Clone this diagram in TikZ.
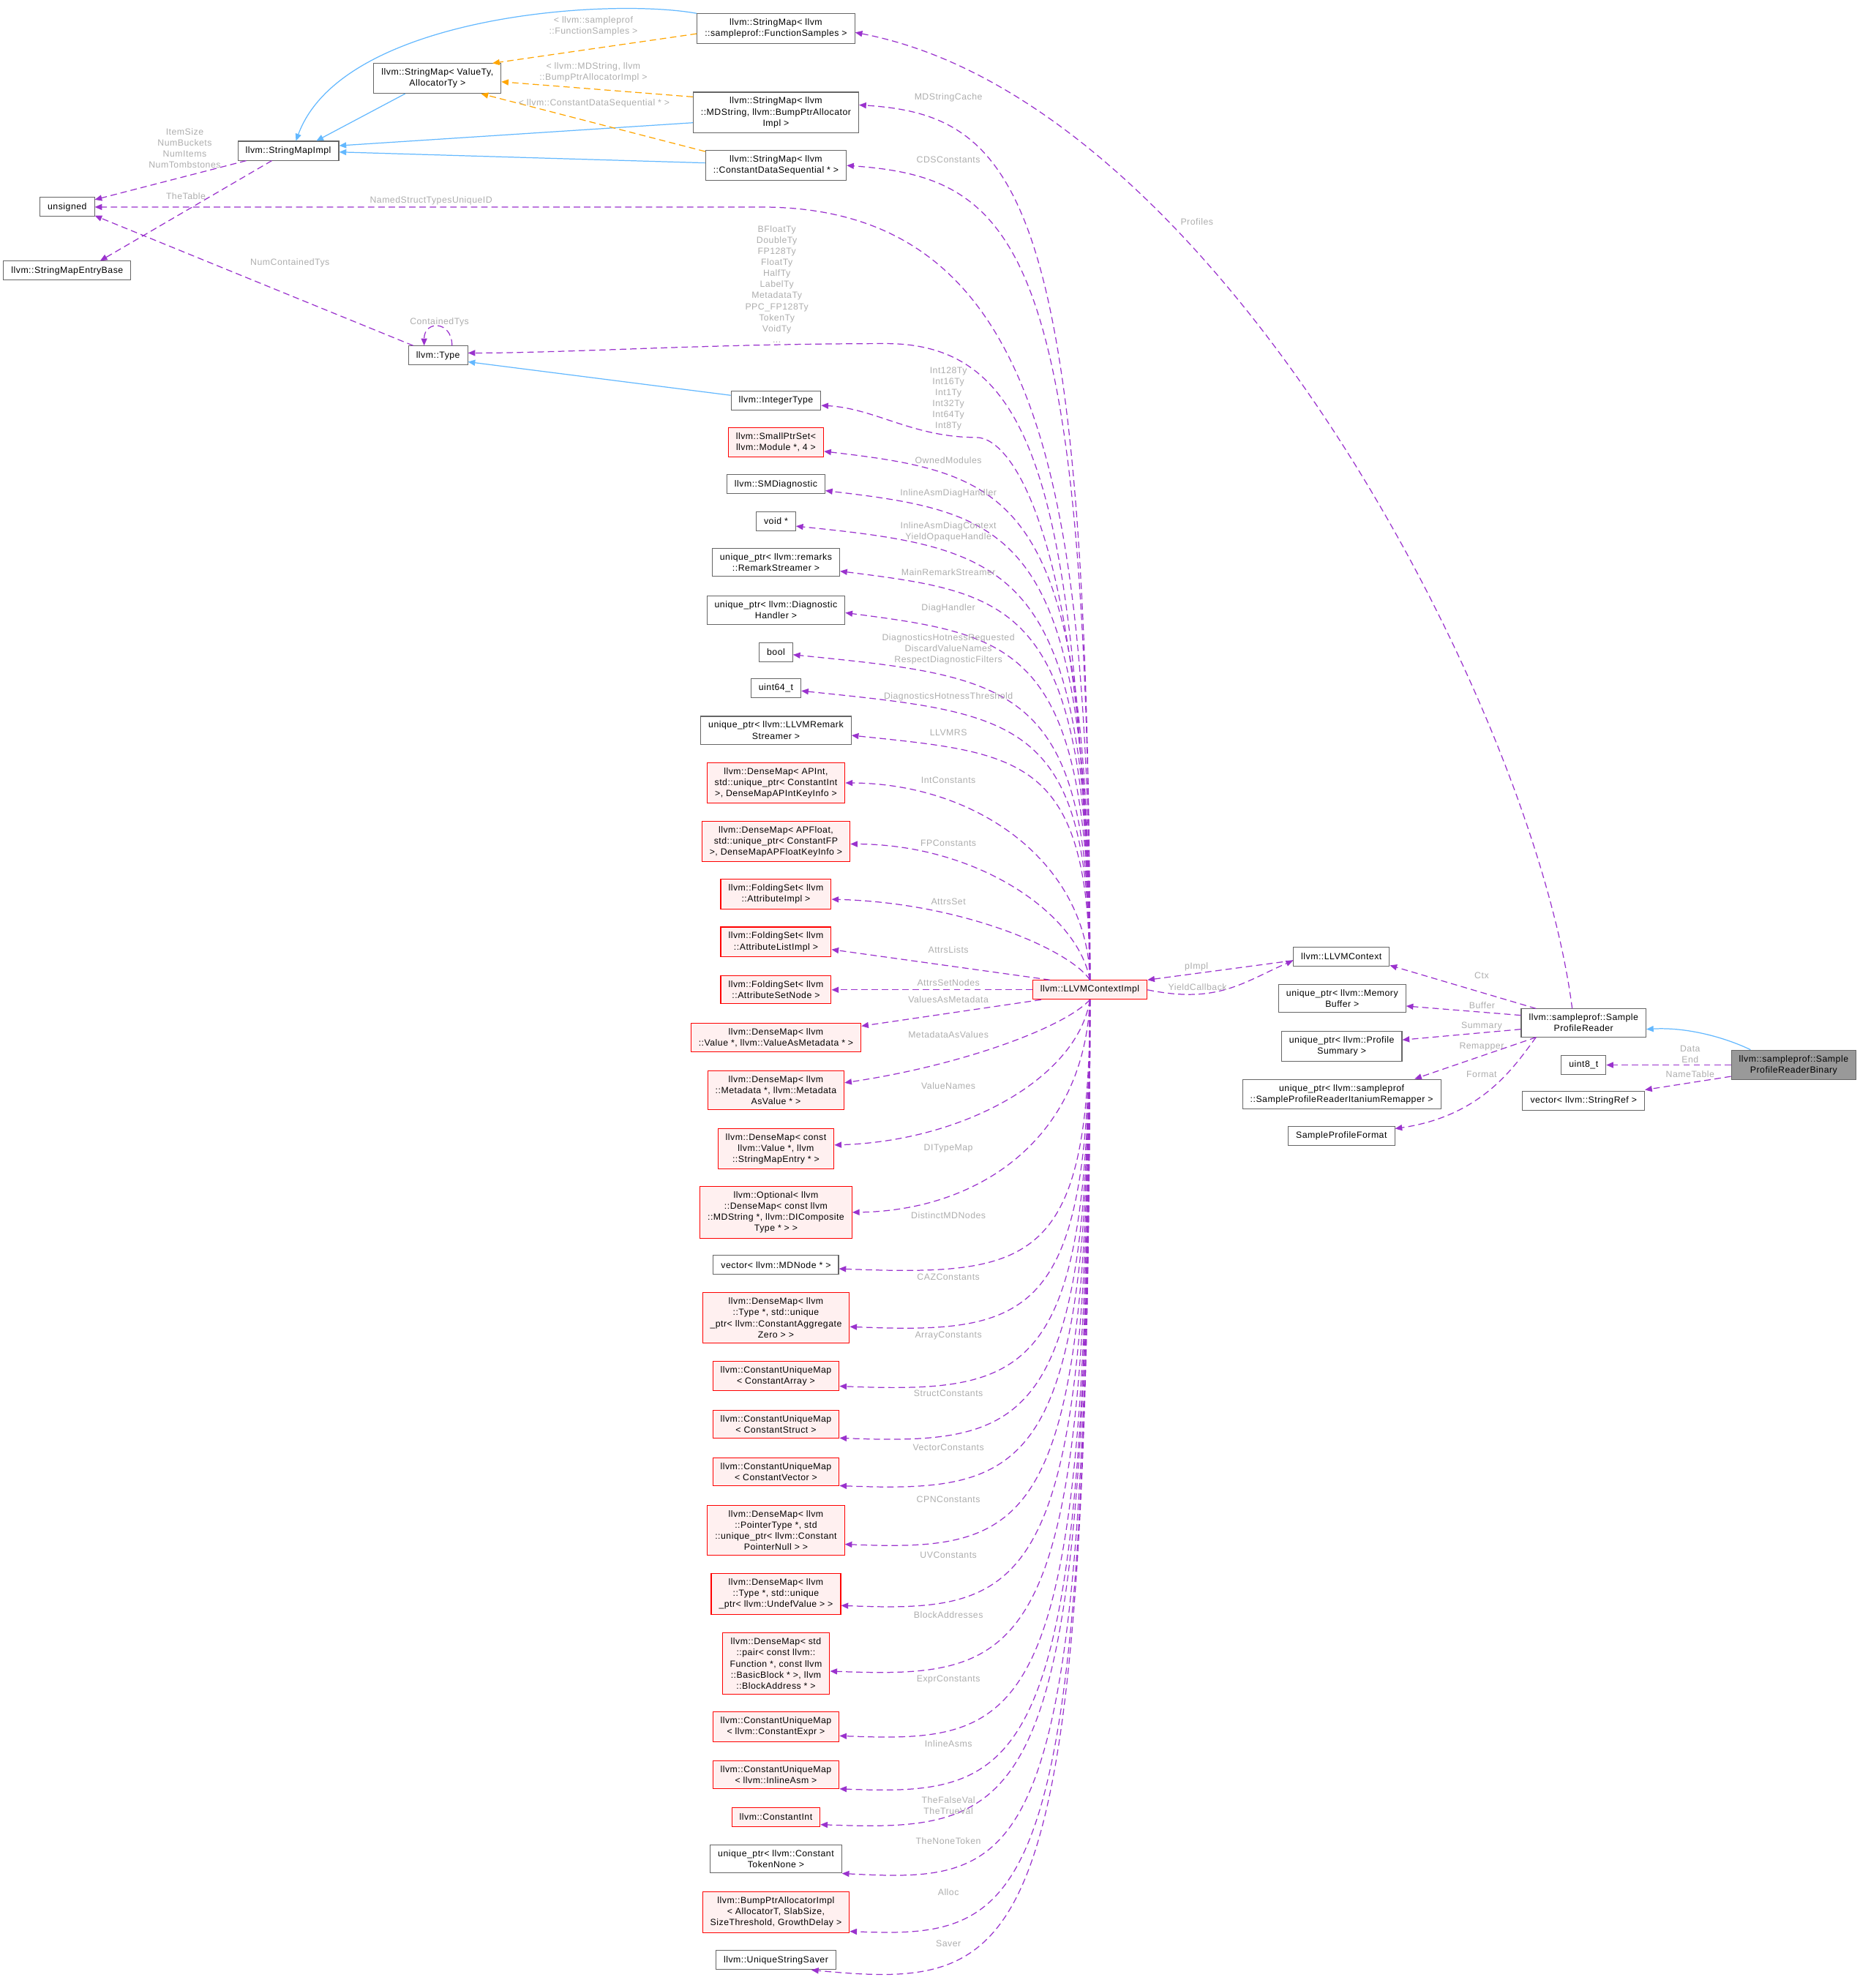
\documentclass[tikz,border=0pt]{standalone}
\usepackage{fontspec}
\newfontfamily\doxfont{Liberation Sans}[LetterSpace=4]
\usetikzlibrary{arrows.meta,calc}
\definecolor{mempurple}{HTML}{9A32CD}
\definecolor{inhblue}{HTML}{63B8FF}
\definecolor{tplorange}{HTML}{FFA500}
\definecolor{lblgray}{HTML}{ADADAD}
\definecolor{boxgray}{HTML}{666666}
\definecolor{trred}{HTML}{FF0000}
\definecolor{trfill}{HTML}{FFF0F0}
\definecolor{curfill}{HTML}{999999}
\tikzset{cls/.style={draw=boxgray, fill=white, line width=0.6pt, font=\doxfont\fontsize{7}{8.6}\selectfont, align=center, inner xsep=6pt, inner ysep=4pt, minimum height=14.8pt},
  trunc/.style={cls, draw=trred, fill=trfill}, cur/.style={cls, fill=curfill},
  lbl/.style={font=\doxfont\fontsize{7}{8.6}\selectfont, text=lblgray, align=center, inner sep=0pt},
  lnk/.style={line width=0.7pt, -{Triangle[length=5.5pt,width=4.6pt]}},
  inh/.style={lnk, draw=inhblue}, tpl/.style={lnk, draw=tplorange, dash pattern=on 5pt off 3pt},
  mem/.style={lnk, draw=mempurple, dash pattern=on 5pt off 3pt}}
\begin{document}
\begin{tikzpicture}[x=0.03466cm,y=-0.03466cm]
\useasboundingbox (0,0) rectangle (1467,1568);
% ---- string maps ----
\node[cls] (sf) at (612,22.6) {llvm::StringMap< llvm\\::sampleprof::FunctionSamples >};
\node[cls] (sva) at (345,61.9) {llvm::StringMap< ValueTy,\\AllocatorTy >};
\node[cls] (smd) at (612,88.8) {llvm::StringMap< llvm\\::MDString, llvm::BumpPtrAllocator\\Impl >};
\node[cls] (scd) at (612,130.5) {llvm::StringMap< llvm\\::ConstantDataSequential * >};
\node[cls] (smi) at (227.4,118.9) {llvm::StringMapImpl};
\node[cls] (unsigned) at (53,163.3) {unsigned};
\node[cls] (smeb) at (53,213.5) {llvm::StringMapEntryBase};
\node[cls] (type) at (345.5,280.4) {llvm::Type};
% ---- members of the context ----
\node[cls] (intty) at (612,315.8) {llvm::IntegerType};
\node[trunc] (sps) at (612,349) {llvm::SmallPtrSet<\\llvm::Module *, 4 >};
\node[cls] (smdiag) at (612,382) {llvm::SMDiagnostic};
\node[cls] (voidp) at (612,411) {void *};
\node[cls] (rstream) at (612,443.5) {unique\_ptr< llvm::remarks\\::RemarkStreamer >};
\node[cls] (dhandler) at (612,481.3) {unique\_ptr< llvm::Diagnostic\\Handler >};
\node[cls] (boolt) at (612,514.4) {bool};
\node[cls] (uint64) at (612,542.9) {uint64\_t};
\node[cls] (llvmrs) at (612,576) {unique\_ptr< llvm::LLVMRemark\\Streamer >};
\node[trunc] (apint) at (612,617.5) {llvm::DenseMap< APInt,\\std::unique\_ptr< ConstantInt\\>, DenseMapAPIntKeyInfo >};
\node[trunc] (apfloat) at (612,663.7) {llvm::DenseMap< APFloat,\\std::unique\_ptr< ConstantFP\\>, DenseMapAPFloatKeyInfo >};
\node[trunc] (attrimpl) at (612,705.3) {llvm::FoldingSet< llvm\\::AttributeImpl >};
\node[trunc] (attrlist) at (612,742.9) {llvm::FoldingSet< llvm\\::AttributeListImpl >};
\node[trunc] (attrset) at (612,780.7) {llvm::FoldingSet< llvm\\::AttributeSetNode >};
\node[trunc] (vam) at (612,818.3) {llvm::DenseMap< llvm\\::Value *, llvm::ValueAsMetadata * >};
\node[trunc] (mdav) at (612,860) {llvm::DenseMap< llvm\\::Metadata *, llvm::Metadata\\AsValue * >};
\node[trunc] (sme) at (612,906.1) {llvm::DenseMap< const\\llvm::Value *, llvm\\::StringMapEntry * >};
\node[trunc] (optm) at (612,956.2) {llvm::Optional< llvm\\::DenseMap< const llvm\\::MDString *, llvm::DIComposite\\Type * > >};
\node[cls] (mdnode) at (612,997.7) {vector< llvm::MDNode * >};
\node[trunc] (caz) at (612,1039.4) {llvm::DenseMap< llvm\\::Type *, std::unique\\\_ptr< llvm::ConstantAggregate\\Zero > >};
\node[trunc] (carray) at (612,1085.3) {llvm::ConstantUniqueMap\\< ConstantArray >};
\node[trunc] (cstruct) at (612,1123.2) {llvm::ConstantUniqueMap\\< ConstantStruct >};
\node[trunc] (cvector) at (612,1160.8) {llvm::ConstantUniqueMap\\< ConstantVector >};
\node[trunc] (ptrty) at (612,1207) {llvm::DenseMap< llvm\\::PointerType *, std\\::unique\_ptr< llvm::Constant\\PointerNull > >};
\node[trunc] (undefv) at (612,1257.3) {llvm::DenseMap< llvm\\::Type *, std::unique\\\_ptr< llvm::UndefValue > >};
\node[trunc] (blockaddr) at (612,1312.1) {llvm::DenseMap< std\\::pair< const llvm::\\Function *, const llvm\\::BasicBlock * >, llvm\\::BlockAddress * >};
\node[trunc] (cexpr) at (612,1362.1) {llvm::ConstantUniqueMap\\< llvm::ConstantExpr >};
\node[trunc] (iasm) at (612,1399.9) {llvm::ConstantUniqueMap\\< llvm::InlineAsm >};
\node[trunc] (cint) at (612,1433.1) {llvm::ConstantInt};
\node[cls] (tokn) at (612,1466.3) {unique\_ptr< llvm::Constant\\TokenNone >};
\node[trunc] (bump) at (612,1508.3) {llvm::BumpPtrAllocatorImpl\\< AllocatorT, SlabSize,\\SizeThreshold, GrowthDelay >};
\node[cls] (saver) at (612,1546) {llvm::UniqueStringSaver};
\node[trunc] (impl) at (859.6,780.7) {llvm::LLVMContextImpl};
% ---- sample profile reader ----
\node[cls] (ctx) at (1058,754.6) {llvm::LLVMContext};
\node[cls] (membuf) at (1058.6,787.5) {unique\_ptr< llvm::Memory\\Buffer >};
\node[cls] (ps) at (1058.2,825.2) {unique\_ptr< llvm::Profile\\Summary >};
\node[cls] (remap) at (1058.2,863) {unique\_ptr< llvm::sampleprof\\::SampleProfileReaderItaniumRemapper >};
\node[cls] (format) at (1058,896) {SampleProfileFormat};
\node[cls] (spr) at (1249,806.8) {llvm::sampleprof::Sample\\ProfileReader};
\node[cls] (uint8) at (1249,840) {uint8\_t};
\node[cls] (vecsr) at (1249,868.4) {vector< llvm::StringRef >};
\node[cur] (sprb) at (1414.7,840) {llvm::sampleprof::Sample\\ProfileReaderBinary};
% ---- inheritance and templates ----
\draw[inh] (sf.north west) .. controls (480,-2) and (270,12) .. ($(smi.north)+(6,0)$);
\draw[inh] ($(sva.south west)+(25,0)$) -- ($(smi.north east)+(-18,0)$);
\draw[inh] ($(smd.west)+(0,8)$) -- ($(smi.east)+(0,-4)$);
\draw[inh] ($(scd.west)+(0,-2)$) -- ($(smi.east)+(0,1)$);
\draw[inh] ($(intty.west)+(0,-4)$) -- ($(type.east)+(0,5)$);
\draw[inh] ($(sprb.north)+(-34,0)$) .. controls (1360,818) and (1330,810) .. ($(spr.east)+(0,5)$);
\draw[tpl] ($(sf.west)+(0,4)$) -- ($(sva.north east)+(-7,0)$);
\draw[tpl] ($(smd.north west)+(0,4)$) -- ($(sva.east)+(0,2.6)$);
\draw[tpl] ($(scd.north west)+(0,1)$) -- ($(sva.south east)+(-16,0)$);
\node[lbl] (lsf) at (468,20.5) {< llvm::sampleprof\\::FunctionSamples >};
\node[lbl] (lsmd) at (468,57) {< llvm::MDString, llvm\\::BumpPtrAllocatorImpl >};
\node[lbl] (lscd) at (468.6,81.8) {< llvm::ConstantDataSequential * >};
% ---- string map members ----
\draw[mem] ($(smi.south west)+(7,0)$) -- ($(unsigned.north east)+(0,2)$);
\draw[mem] ($(smi.south)+(-13,0)$) -- ($(smeb.north)+(26,0)$);
\draw[mem] ($(type.north west)+(4,0)$) -- ($(unsigned.south east)+(0,-1)$);
\draw[mem] ($(type.north)+(11,0)$) .. controls +(0,-20) and +(0,-20) .. ($(type.north)+(-11,0)$);
\node[lbl] (litem) at (145.7,116.9) {ItemSize\\NumBuckets\\NumItems\\NumTombstones};
\node[lbl] (ltable) at (146.6,154.8) {TheTable};
\node[lbl] (lnumct) at (228.7,207.4) {NumContainedTys};
\node[lbl] (lct) at (346.6,254) {ContainedTys};
% ---- context members above ----
\coordinate (nsBend) at (600,163.3);
\draw[mem] (impl.north) .. controls (860,380) and (820,163.3) .. (nsBend) -- (unsigned.east);
\node[lbl] (lnsid) at (340,158.5) {NamedStructTypesUniqueID};
\coordinate (tyBend) at (700,271);
\draw[mem] (impl.north) .. controls (850,390) and (818,272) .. (tyBend) .. controls (560,271) and (450,278.4) .. ($(type.east)+(0,-2)$);
\node[lbl] (lty) at (612.7,224.1) {BFloatTy\\DoubleTy\\FP128Ty\\FloatTy\\HalfTy\\LabelTy\\MetadataTy\\PPC\_FP128Ty\\TokenTy\\VoidTy\\...};
\coordinate (itBend) at (770,345);
\draw[mem] (impl.north) .. controls (858,430) and (800,345) .. (itBend) .. controls (720,345) and (690,322) .. ($(intty.east)+(0,4)$);
\node[lbl] (lintty) at (748,314.6) {Int128Ty\\Int16Ty\\Int1Ty\\Int32Ty\\Int64Ty\\Int8Ty};
\foreach \tg/\oy/\dy/\ly/\txt in {smd/-6/8/76.8/MDStringCache, scd/0/10/126.2/CDSConstants,
  sps/7/18/363.3/OwnedModules, smdiag/5/18/389/InlineAsmDiagHandler,
  voidp/4/18/419.5/{InlineAsmDiagContext\\YieldOpaqueHandle},
  rstream/7/18/451.3/MainRemarkStreamer, dhandler/2/18/480/DiagHandler,
  boolt/2/18/512/{DiagnosticsHotnessRequested\\DiscardValueNames\\RespectDiagnosticFilters},
  uint64/2/18/549.5/DiagnosticsHotnessThreshold, llvmrs/4/14/577.9/LLVMRS}{
  \draw[mem] (impl.north) .. controls ($(impl.north)!0.9!(impl.north |- \tg.east)$) and ($(805,0 |- \tg.east)+(0,\oy+\dy)$) .. ($(\tg.east)+(0,\oy)$);
  \node[lbl] (l\tg) at (748,\ly) {\txt};}
\draw[mem] (impl.north) .. controls (858,680) and (770,618) .. (apint.east);
\node[lbl] (lapint) at (748,615.2) {IntConstants};
\draw[mem] (impl.north) .. controls (850,720) and (770,666) .. ($(apfloat.east)+(0,2)$);
\node[lbl] (lapfloat) at (748,665) {FPConstants};
\draw[mem] (impl.north) .. controls (845,750) and (760,712) .. ($(attrimpl.east)+(0,4)$);
\node[lbl] (lattrimpl) at (748,711) {AttrsSet};
\draw[mem] ($(impl.north west)+(14,0)$) -- ($(attrlist.east)+(0,6)$);
\node[lbl] (lattrlist) at (748,749) {AttrsLists};
\draw[mem] (impl.west) -- (attrset.east);
\node[lbl] (lattrset) at (748,775) {AttrsSetNodes};
% ---- context members below ----
\draw[mem] ($(impl.south west)+(7,0)$) -- ($(vam.east)+(0,-9)$);
\node[lbl] (lvam) at (748,788.3) {ValuesAsMetadata};
\draw[mem] (impl.south) .. controls (840,810) and (760,840) .. ($(mdav.east)+(0,-6)$);
\node[lbl] (lmdav) at (748,816.2) {MetadataAsValues};
\draw[mem] (impl.south) .. controls (850,850) and (760,900) .. ($(sme.east)+(0,-3)$);
\node[lbl] (lsme) at (748,856.6) {ValueNames};
\draw[mem] (impl.south) .. controls (855,900) and (770,955) .. (optm.east);
\node[lbl] (loptm) at (748,905.6) {DITypeMap};
\foreach \tg/\oy/\ly/\txt in {mdnode/3/958.6/DistinctMDNodes, caz/7/1007/CAZConstants,
  carray/8/1053.4/ArrayConstants, cstruct/11/1099.2/StructConstants,
  cvector/11/1141.8/VectorConstants, ptrty/11/1182.8/CPNConstants,
  undefv/9/1226.7/UVConstants, blockaddr/6/1273.6/BlockAddresses,
  cexpr/7/1324.7/ExprConstants, iasm/11/1375.5/InlineAsms,
  cint/6/1424/{TheFalseVal\\TheTrueVal}, bump/15/1492.5/Alloc}{
  \draw[mem] (impl.south) .. controls (impl.south |- \tg.east) and ($(815,0 |- \tg.east)+(0,\oy+6)$) .. ($(\tg.east)+(0,\oy)$);
  \node[lbl] (l\tg) at (748,\ly) {\txt};}
\draw[mem] (impl.south) .. controls (impl.south |- tokn.south) and ($(815,0 |- tokn.south)+(0,8)$) .. (tokn.south east);
\node[lbl] (ltokn) at (748,1452) {TheNoneToken};
\draw[mem] (impl.south) .. controls (impl.south |- saver.south) and ($(812,0 |- saver.south)+(0,16)$) .. ($(saver.south)+(28,0)$);
\node[lbl] (lsaver) at (748,1533) {Saver};
% ---- context and reader ----
\draw[mem] ($(ctx.west)+(0,3)$) -- (impl.north east);
\node[lbl] (lpimpl) at (943.6,762.4) {pImpl};
\draw[mem] (impl.east) .. controls (960,792) and (980,775) .. ($(ctx.west)+(0,3)$);
\node[lbl] (lyield) at (944.5,778.3) {YieldCallback};
\draw[mem] ($(spr.north)+(-9,0)$) .. controls (1210,560) and (960,80) .. ($(sf.east)+(0,3)$);
\node[lbl] (lprof) at (944,174.7) {Profiles};
\draw[mem] ($(spr.north west)+(12,0)$) -- ($(ctx.south east)+(0,-1)$);
\node[lbl] (lctx) at (1168.6,769.5) {Ctx};
\draw[mem] ($(spr.west)+(0,-6)$) -- ($(membuf.east)+(0,6)$);
\node[lbl] (lbuf) at (1168.9,793.1) {Buffer};
\draw[mem] ($(spr.west)+(0,5)$) -- ($(ps.east)+(0,-5)$);
\node[lbl] (lsum) at (1168.6,809.5) {Summary};
\draw[mem] ($(spr.south west)+(12,0)$) -- ($(remap.north east)+(-21,0)$);
\node[lbl] (lremap) at (1168.6,825.3) {Remapper};
\draw[mem] ($(spr.south west)+(12,0)$) .. controls (1195,840) and (1170,880) .. ($(format.north east)+(0,2)$);
\node[lbl] (lformat) at (1168.6,847.4) {Format};
\draw[mem] (sprb.west) -- (uint8.east);
\node[lbl] (ldata) at (1333,831.5) {Data\\End};
\draw[mem] ($(sprb.west)+(0,9)$) -- ($(vecsr.north east)+(0,-1)$);
\node[lbl] (lname) at (1333,847.4) {NameTable};
\end{tikzpicture}
\end{document}
